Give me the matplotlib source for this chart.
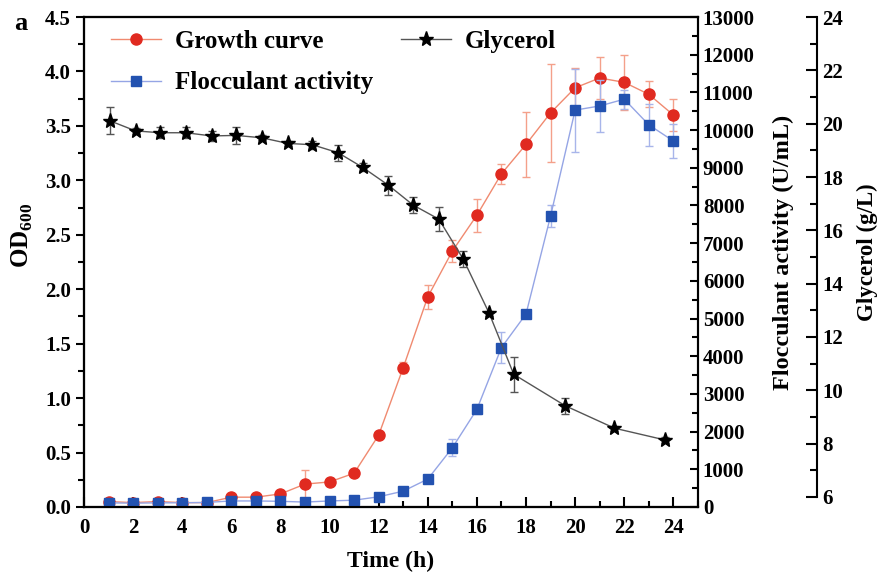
import numpy as np
from matplotlib import pyplot as plt
from matplotlib.ticker import MultipleLocator

plt.rcParams['font.family'] = ['Liberation Serif', 'DejaVu Serif']
plt.rcParams['font.weight'] = 'bold'
plt.rcParams['mathtext.fontset'] = 'custom'
plt.rcParams['mathtext.rm'] = 'Liberation Serif:bold'
plt.rcParams['mathtext.bf'] = 'Liberation Serif:bold'

# growth curve (OD600)
time_h = [1, 2, 3, 4, 5, 6, 7, 8, 9, 10, 11, 12, 13, 14, 15, 16, 17, 18, 19, 20, 21, 22, 23, 24]
od600 = [0.05, 0.04, 0.05, 0.04, 0.04, 0.09, 0.09, 0.12, 0.21, 0.23, 0.31, 0.66, 1.28, 1.93,
         2.35, 2.68, 3.06, 3.33, 3.62, 3.85, 3.94, 3.90, 3.79, 3.60]
od600_err = [0.02, 0.01, 0.01, 0.01, 0.01, 0.01, 0.01, 0.02, 0.13, 0.02, 0.02, 0.02, 0.05, 0.11,
             0.10, 0.15, 0.09, 0.30, 0.45, 0.18, 0.19, 0.25, 0.12, 0.15]

# flocculant activity (U/mL)
floc = [110, 100, 110, 110, 120, 160, 160, 150, 130, 160, 180, 270, 420, 740,
        1570, 2590, 4230, 5120, 7720, 10530, 10640, 10820, 10140, 9710]
floc_err = [20, 20, 20, 20, 20, 20, 20, 20, 20, 20, 20, 30, 40, 60,
            230, 130, 400, 100, 300, 1100, 700, 250, 560, 450]

# glycerol (g/L)
gly_time = [1.05, 2.1, 3.1, 4.15, 5.2, 6.2, 7.25, 8.3, 9.3, 10.35, 11.35, 12.4, 13.4, 14.45,
            15.45, 16.5, 17.5, 19.6, 21.6, 23.65]
glycerol = [20.11, 19.73, 19.66, 19.66, 19.54, 19.56, 19.47, 19.26, 19.21, 18.91, 18.36, 17.69,
            16.95, 16.42, 14.91, 12.89, 10.6, 9.42, 8.58, 8.14]
gly_err = [0.5, 0.1, 0.2, 0.2, 0.2, 0.33, 0.1, 0.1, 0.15, 0.3, 0.15, 0.35,
           0.3, 0.45, 0.3, 0.1, 0.65, 0.3, 0.1, 0.1]

fig = plt.figure(figsize=(8.81, 5.79), dpi=100)
ax = fig.add_axes([0.0953, 0.1244, 0.6969, 0.8462])
ax2 = ax.twinx()
ax3 = ax.twinx()

l1 = ax.errorbar(time_h, od600, yerr=od600_err, color='#f08a70', lw=1, ecolor='#f4a08a',
                 elinewidth=1, capsize=3, marker='o', ms=8, mfc='#e02a20', mec='#e02a20',
                 label='Growth curve', zorder=3)
l2 = ax2.errorbar(time_h, floc, yerr=floc_err, color='#95a5e5', lw=1, ecolor='#a8b5ea',
                  elinewidth=1, capsize=3, marker='s', ms=7, mfc='#2352b0', mec='#2352b0',
                  label='Flocculant activity', zorder=3)
l3 = ax3.errorbar(gly_time, glycerol, yerr=gly_err, color='#555555', lw=1, ecolor='#555555',
                  elinewidth=1, capsize=3, marker='*', ms=11, mfc='black', mec='black',
                  label='Glycerol', zorder=3)

ax.set_xlim(0, 25)
ax.set_ylim(0, 4.5)
ax2.set_ylim(0, 13000)
ax3.set_ylim(6 - 10 / 26.67, 24)

ax.xaxis.set_major_locator(MultipleLocator(2))
ax.xaxis.set_minor_locator(MultipleLocator(1))
ax.yaxis.set_major_locator(MultipleLocator(0.5))
ax.yaxis.set_minor_locator(MultipleLocator(0.25))
ax2.yaxis.set_major_locator(MultipleLocator(1000))
ax2.yaxis.set_minor_locator(MultipleLocator(500))
ax3.yaxis.set_major_locator(MultipleLocator(2))
ax3.yaxis.set_minor_locator(MultipleLocator(1))

ax.tick_params(axis='x', which='major', direction='in', length=7, width=1.5, labelsize=15, pad=8)
ax.tick_params(axis='x', which='minor', direction='in', length=4, width=1.5)
ax.tick_params(axis='y', which='major', direction='out', length=6, width=1.5, labelsize=15)
ax.tick_params(axis='y', which='minor', direction='out', length=4, width=1.5)
ax2.tick_params(axis='y', which='major', direction='in', length=6, width=1.5, labelsize=15)
ax2.tick_params(axis='y', which='minor', direction='in', length=4, width=1.5)
ax3.tick_params(axis='y', which='major', direction='in', length=8, width=1.5, labelsize=15)
ax3.tick_params(axis='y', which='minor', direction='in', length=5, width=1.5)

for a in (ax, ax2, ax3):
    for s in a.spines.values():
        s.set_linewidth(1.5)
ax3.spines['right'].set_position(('axes', 1.194))
ax3.spines['right'].set_bounds(6, 24)

ax.set_xlabel('Time (h)', fontsize=17, fontweight='bold', labelpad=9)
ax.set_ylabel(r'$\mathbf{OD}_{\mathbf{600}}$', fontsize=18)
ax.yaxis.set_label_coords(-0.08, 0.555)
ax2.set_ylabel('Flocculant activity (U/mL)', fontsize=17.5, fontweight='bold')
ax2.yaxis.set_label_coords(1.122, 0.52)
ax3.set_ylabel('Glycerol (g/L)', fontsize=16.5, fontweight='bold')
ax3.yaxis.set_label_coords(1.258, 0.52)

fig.text(0.016, 0.96, 'a', fontsize=19, fontweight='bold', va='center')

ax3.legend([l1[0], l2[0], l3[0]], ['Growth curve', 'Flocculant activity', 'Glycerol'],
           ncol=2, loc='upper left', bbox_to_anchor=(0.008, 1.02), frameon=False,
           fontsize=18, handlelength=2.0, handletextpad=0.55, columnspacing=1.1,
           labelspacing=0.75)

fig.savefig('out.png', dpi=100)
